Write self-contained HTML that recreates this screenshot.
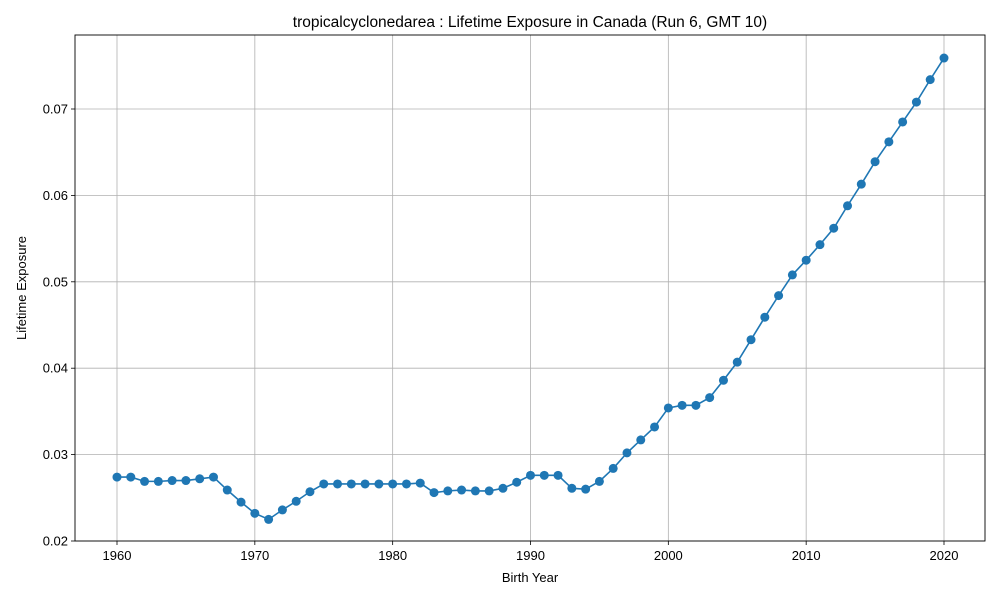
<!DOCTYPE html>
<html><head><meta charset="utf-8"><style>
html,body{margin:0;padding:0;background:#fff;}
svg{display:block;font-family:"Liberation Sans","DejaVu Sans",sans-serif;}
</style></head><body>
<svg id="chart" width="1000" height="600"></svg>
<script>
const years = [];
for (let y = 1960; y <= 2020; y++) years.push(y);
const exposure = [0.0274,0.0274,0.0269,0.0269,0.0270,0.0270,0.0272,0.0274,0.0259,0.0245,
0.0232,0.0225,0.0236,0.0246,0.0257,0.0266,0.0266,0.0266,0.0266,0.0266,
0.0266,0.0266,0.0267,0.0256,0.0258,0.0259,0.0258,0.0258,0.0261,0.0268,
0.0276,0.0276,0.0276,0.0261,0.0260,0.0269,0.0284,0.0302,0.0317,0.0332,
0.0354,0.0357,0.0357,0.0366,0.0386,0.0407,0.0433,0.0459,0.0484,0.0508,
0.0525,0.0543,0.0562,0.0588,0.0613,0.0639,0.0662,0.0685,0.0708,0.0734,0.0759];
const xTicks = [1960,1970,1980,1990,2000,2010,2020];
const yTicks = [0.02,0.03,0.04,0.05,0.06,0.07];

const L=75,R=985,T=35,B=541;
const xs = v => 117 + (v-1960)*(944-117)/60;
const ys = v => 541 - (v-0.02)*(541-109)/0.05;
const NS="http://www.w3.org/2000/svg";
const svg=document.getElementById('chart');
function mk(tag,attrs,parent){const e=document.createElementNS(NS,tag);for(const k in attrs)e.setAttribute(k,attrs[k]);(parent||svg).appendChild(e);return e;}

const grid=mk('g',{});


xTicks.forEach(t=>{
  mk('line',{x1:xs(t),x2:xs(t),y1:T,y2:B,stroke:'#b0b0b0','stroke-width':0.8},grid);
  mk('line',{x1:xs(t),x2:xs(t),y1:B,y2:B+4,stroke:'#000','stroke-width':0.8});
  const tx=mk('text',{x:xs(t),y:B+19,'text-anchor':'middle','font-size':13});
  tx.textContent=t;
  
  
});
yTicks.forEach(t=>{
  mk('line',{x1:L,x2:R,y1:ys(t),y2:ys(t),stroke:'#b0b0b0','stroke-width':0.8},grid);
  mk('line',{x1:L-4,x2:L,y1:ys(t),y2:ys(t),stroke:'#000','stroke-width':0.8});
  const tx=mk('text',{x:L-7,y:ys(t)+4.5,'text-anchor':'end','font-size':13});
  tx.textContent=t.toFixed(2);
  
  
});

const pts=years.map((y,i)=>xs(y)+','+ys(exposure[i])).join(' ');
const line=mk('polyline',{points:pts,fill:'none',stroke:'#1f77b4','stroke-width':1.6});


years.forEach((y,i)=>{
  const c=mk('circle',{cx:xs(y),cy:ys(exposure[i]),r:4.5,fill:'#1f77b4'});
  
  
});

const frame=mk('rect',{x:L,y:T,width:R-L,height:B-T,fill:'none',stroke:'#000','stroke-width':0.9});



const title=mk('text',{x:530,y:27,'text-anchor':'middle','font-size':15.5});
title.textContent='tropicalcyclonedarea : Lifetime Exposure in Canada (Run 6, GMT 10)';


const xl=mk('text',{x:530,y:582,'text-anchor':'middle','font-size':13});
xl.textContent='Birth Year';


const yl=mk('text',{x:26,y:288,'text-anchor':'middle','font-size':13,transform:'rotate(-90 26 288)'});
yl.textContent='Lifetime Exposure';


</script>
</body></html>
